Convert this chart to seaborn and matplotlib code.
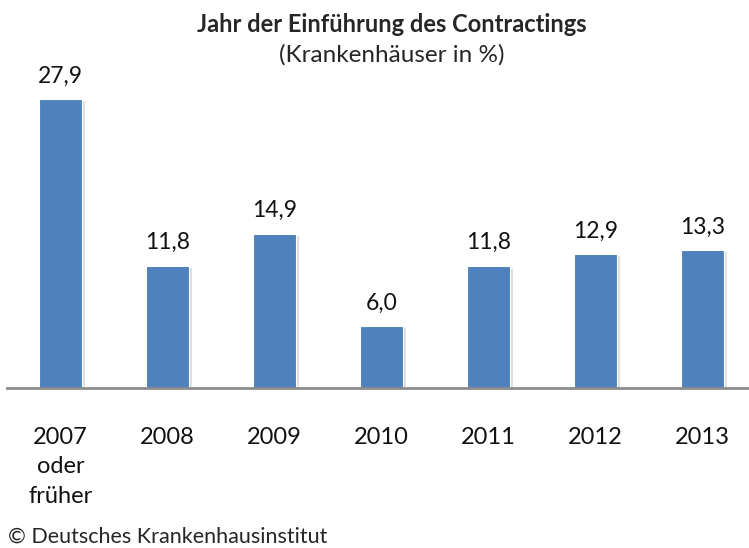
import matplotlib
matplotlib.use("Agg")
import matplotlib.pyplot as plt
import matplotlib.patheffects as pe
import seaborn as sns
import pandas as pd

# data
years = ["2007\noder\nfrüher", "2008", "2009", "2010", "2011", "2012", "2013"]
shares = [27.9, 11.8, 14.9, 6.0, 11.8, 12.9, 13.3]
value_labels = ["27,9", "11,8", "14,9", "6,0", "11,8", "12,9", "13,3"]

df = pd.DataFrame({"jahr": years, "anteil": shares})

sns.set_style("white")
plt.rcParams["font.family"] = ["Lato", "DejaVu Sans"]

fig = plt.figure(figsize=(7.49, 5.48), dpi=100)
ax = fig.add_axes([7 / 749, 160 / 548, 749 / 749, 348 / 548])

sns.barplot(data=df, x="jahr", y="anteil", color="#4F81BD", width=0.4,
            saturation=1, ax=ax)

for bar in ax.patches:
    bar.set_edgecolor("white")
    bar.set_linewidth(0.8)
    bar.set_path_effects([pe.SimplePatchShadow(offset=(2.5, -1.5), alpha=0.25,
                                               shadow_rgbFace="#808080"),
                          pe.Normal()])

for i, (v, lab) in enumerate(zip(shares, value_labels)):
    ax.annotate(lab, (i, v), xytext=(0, 9), textcoords="offset points",
                ha="center", va="bottom", fontsize=16.5, color="#111111")

ax.set_xlim(-0.5, 6.5)
ax.set_ylim(0, 33.6)
ax.set_xlabel("")
ax.set_ylabel("")
ax.set_yticks([])
ax.tick_params(axis="x", length=0, pad=28, labelsize=17, colors="#111111")
for lab in ax.get_xticklabels():
    lab.set_linespacing(1.5)
    lab.set_va("top")

for side in ["top", "right", "left"]:
    ax.spines[side].set_visible(False)
ax.spines["bottom"].set_color("#8c8c8c")
ax.spines["bottom"].set_linewidth(2)

fig.text(392 / 749, 1 - 25 / 548, "Jahr der Einführung des Contractings",
         ha="center", va="center", fontsize=17, fontweight="bold")
fig.text(392 / 749, 1 - 55 / 548, "(Krankenhäuser in %)",
         ha="center", va="center", fontsize=17.5)
fig.text(8 / 749, 1 - 537 / 548, "© Deutsches Krankenhausinstitut",
         ha="left", va="center", fontsize=15.5)

fig.savefig("out.png", dpi=100)
